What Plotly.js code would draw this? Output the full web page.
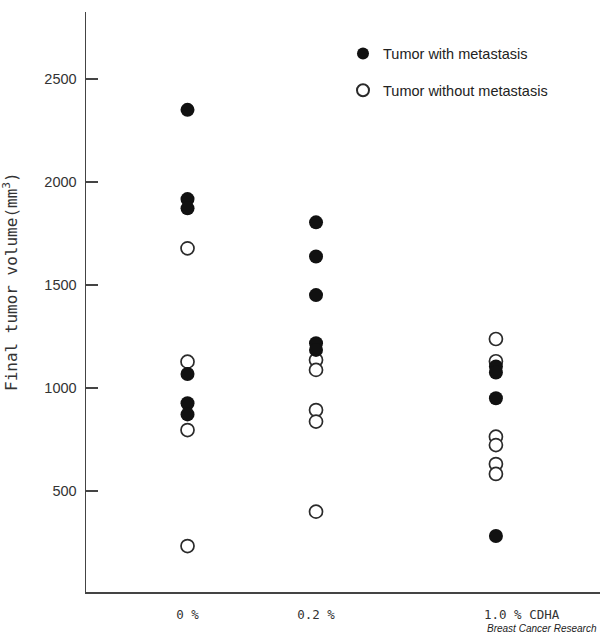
<!DOCTYPE html>
<html>
<head>
<meta charset="utf-8">
<script src="https://cdn.plot.ly/plotly-3.0.1.min.js"></script>
<style>
  html, body { margin: 0; padding: 0; background: #fff; }
  #chart { width: 600px; height: 634px; }
</style>
</head>
<body>
<div id="chart"></div>
<script>
// Groups and where they sit on the x axis
const groups = ['0 %', '0.2 %', '1.0 % CDHA'];
const groupPos = [0, 1, 2.4];
const labelPos = [0, 1, 2.6];

// Final tumor volume (mm3)
const withMet0 = [2350, 1917, 1872, 1068, 926, 872];
const withoutMet0 = [1678, 1128, 796, 233];
const withMet02 = [1804, 1638, 1451, 1217, 1185];
const withoutMet02 = [1136, 1088, 893, 837, 400];
const withMet10 = [1105, 1075, 950, 282];
const withoutMet10 = [1238, 1130, 764, 723, 631, 583];

const yTicks = [500, 1000, 1500, 2000, 2500];

// Building x/y arrays for each series
function stack(lists) {
    let x = [];
    let y = [];
    lists.forEach((vals, i) => {
        vals.forEach(v => {
            x.push(groupPos[i]);
            y.push(v);
        });
    });
    return {x: x, y: y};
}

const withMet = stack([withMet0, withMet02, withMet10]);
const withoutMet = stack([withoutMet0, withoutMet02, withoutMet10]);

// Open circles first so the filled ones sit on top
let withoutTrace = {
    x: withoutMet.x,
    y: withoutMet.y,
    mode: 'markers',
    type: 'scatter',
    name: 'Tumor without metastasis',
    legendrank: 2,
    legendgroup: 'b',
    marker: {size: 13, color: '#fff', line: {color: '#2a2a2a', width: 1.7}}
};
let withTrace = {
    x: withMet.x,
    y: withMet.y,
    mode: 'markers',
    type: 'scatter',
    name: 'Tumor with metastasis',
    legendrank: 1,
    legendgroup: 'a',
    marker: {size: 14, color: '#111', line: {color: '#111', width: 0}}
};

let layout = {
    width: 600,
    height: 634,
    margin: {l: 86, r: 0, t: 12, b: 42},
    paper_bgcolor: '#fff',
    plot_bgcolor: '#fff',
    font: {family: 'Liberation Sans, Arial, sans-serif', color: '#333'},
    showlegend: true,
    legend: {
        x: 0.5, y: 0.956, xanchor: 'left', yanchor: 'top',
        bgcolor: 'rgba(0,0,0,0)',
        font: {size: 14.5, color: '#222'},
        itemsizing: 'constant',
        tracegroupgap: 15,
        traceorder: 'grouped'
    },
    xaxis: {
        range: [-0.79, 3.21],
        showgrid: false,
        zeroline: false,
        showline: true,
        linecolor: '#444',
        linewidth: 1.5,
        ticks: '',
        tickmode: 'array',
        tickvals: labelPos,
        ticktext: groups,
        ticklabelstandoff: 10,
        tickfont: {family: 'DejaVu Sans Mono, monospace', size: 12.5, color: '#333'},
        fixedrange: true
    },
    yaxis: {
        range: [10, 2825],
        showgrid: false,
        zeroline: false,
        showline: true,
        linecolor: '#444',
        linewidth: 1.5,
        ticks: 'inside',
        ticklen: 12,
        tickwidth: 1.5,
        tickcolor: '#444',
        tickmode: 'array',
        tickvals: yTicks,
        ticktext: yTicks.map(String),
        ticklabelstandoff: 5,
        tickfont: {size: 14.5, color: '#333'},
        fixedrange: true
    },
    annotations: [{
        // y axis title, placed by hand because it sits above the plot's middle
        text: 'Final tumor volume(mm<sup>3</sup>)',
        xref: 'paper', yref: 'paper',
        x: 0, y: (592 - 282) / 580, xanchor: 'center', yanchor: 'middle',
        xshift: -76,
        textangle: -90,
        showarrow: false,
        font: {family: 'DejaVu Sans Mono, monospace', size: 16, color: '#333'}
    }, {
        text: 'Breast Cancer Research',
        xref: 'paper', yref: 'paper',
        x: 1, y: 0, xanchor: 'right', yanchor: 'top',
        xshift: -1,
        yshift: -29,
        showarrow: false,
        font: {size: 10, color: '#222', family: 'Liberation Sans, Arial, sans-serif', style: 'italic'}
    }]
};

Plotly.newPlot('chart', [withoutTrace, withTrace], layout, {staticPlot: true});
</script>
</body>
</html>
